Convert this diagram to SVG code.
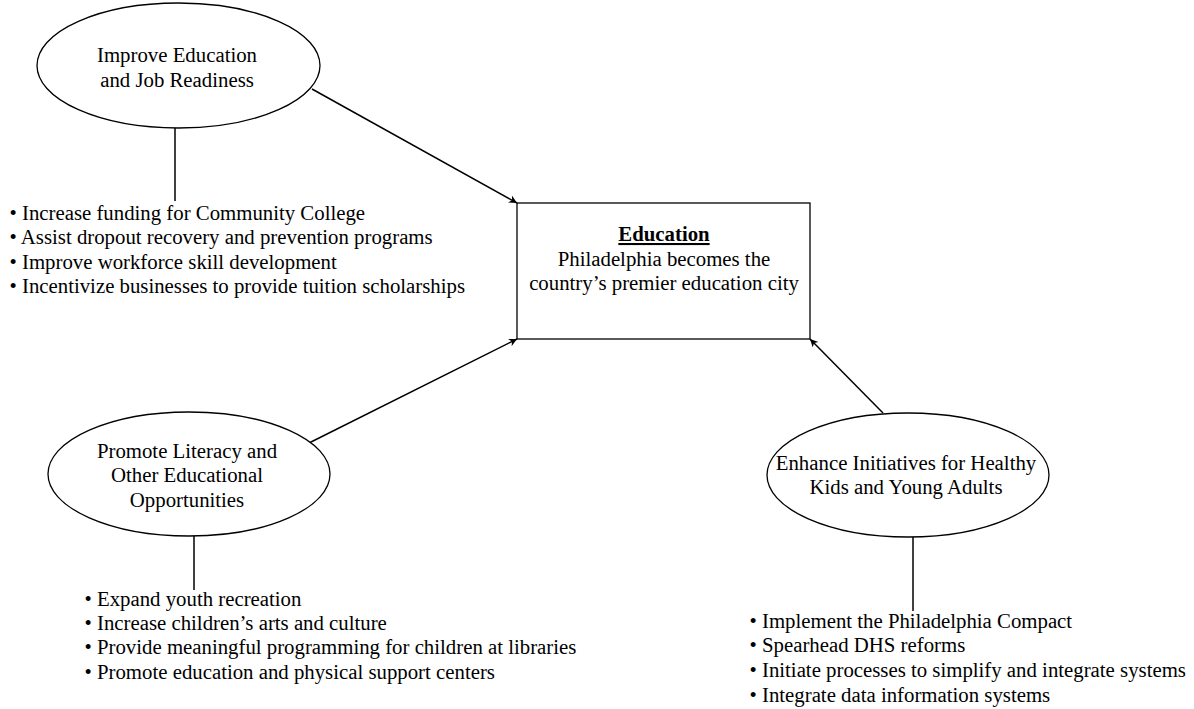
<svg xmlns="http://www.w3.org/2000/svg" width="1194" height="709" viewBox="0 0 1194 709">
<style>
text{font-family:"Liberation Serif","Times New Roman",serif;font-size:20.8px;fill:#000}
.c{text-anchor:middle}
.shape{fill:#fff;stroke:#000;stroke-width:1.3}
.ln{stroke:#000;stroke-width:1.5;fill:none}
</style>
<defs>
<marker id="ah" viewBox="0 0 10 10" refX="10" refY="5" markerWidth="10" markerHeight="8" markerUnits="userSpaceOnUse" orient="auto">
<path d="M0,0 L10,5 L0,10 L3,5 Z" fill="#000"/>
</marker>
</defs>
<rect width="1194" height="709" fill="#fff"/>
<g id="connectors">
<line class="ln" x1="312" y1="89" x2="517" y2="203" marker-end="url(#ah)"/>
<line class="ln" x1="309" y1="443" x2="517" y2="339" marker-end="url(#ah)"/>
<line class="ln" x1="883" y1="413" x2="810" y2="339" marker-end="url(#ah)"/>
<line class="ln" x1="175" y1="128" x2="175" y2="201"/>
<line class="ln" x1="194" y1="536" x2="194" y2="590"/>
<line class="ln" x1="913" y1="537" x2="913" y2="611"/>
</g>
<g id="education">
<rect class="shape" x="517" y="203" width="293" height="136"/>
<text class="c" x="664" y="241" font-weight="bold" text-decoration="underline">Education</text>
<text class="c" x="664" y="266">Philadelphia becomes the</text>
<text class="c" x="664" y="290">country’s premier education city</text>
</g>
<g id="improve">
<ellipse class="shape" cx="178.5" cy="65.5" rx="141.5" ry="62.5"/>
<text class="c" x="177" y="62">Improve Education</text>
<text class="c" x="177" y="87">and Job Readiness</text>
</g>
<g id="improve-list">
<text x="9.5" y="220">• Increase funding for Community College</text>
<text x="9.5" y="244">• Assist dropout recovery and prevention programs</text>
<text x="9.5" y="269">• Improve workforce skill development</text>
<text x="9.5" y="293">• Incentivize businesses to provide tuition scholarships</text>
</g>
<g id="promote">
<ellipse class="shape" cx="189" cy="474" rx="141" ry="62"/>
<text class="c" x="187" y="458">Promote Literacy and</text>
<text class="c" x="187" y="482">Other Educational</text>
<text class="c" x="187" y="507">Opportunities</text>
</g>
<g id="promote-list">
<text x="84.5" y="606">• Expand youth recreation</text>
<text x="84.5" y="630">• Increase children’s arts and culture</text>
<text x="84.5" y="654">• Provide meaningful programming for children at libraries</text>
<text x="84.5" y="679">• Promote education and physical support centers</text>
</g>
<g id="enhance">
<ellipse class="shape" cx="908" cy="475" rx="141" ry="62"/>
<text class="c" x="906" y="470">Enhance Initiatives for Healthy</text>
<text class="c" x="906" y="494">Kids and Young Adults</text>
</g>
<g id="enhance-list">
<text x="749.5" y="628">• Implement the Philadelphia Compact</text>
<text x="749.5" y="652">• Spearhead DHS reforms</text>
<text x="749.5" y="677">• Initiate processes to simplify and integrate systems</text>
<text x="749.5" y="702">• Integrate data information systems</text>
</g>
</svg>
